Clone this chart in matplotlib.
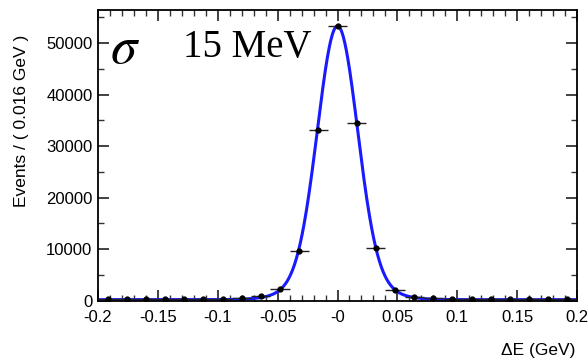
import numpy as np
import matplotlib
matplotlib.use("Agg")
import matplotlib.pyplot as plt
from matplotlib.ticker import MultipleLocator

# Data: bin centres (GeV) and event counts
bin_centers = [-0.192, -0.176, -0.160, -0.144, -0.128, -0.112, -0.096, -0.080,
               -0.064, -0.048, -0.032, -0.016, 0.000, 0.016, 0.032, 0.048,
               0.064, 0.080, 0.096, 0.112, 0.128, 0.144, 0.160, 0.176, 0.192]
counts = [250, 280, 300, 320, 330, 360, 420, 600,
          950, 2270, 9640, 33100, 53300, 34500, 10280, 2080,
          780, 450, 380, 340, 320, 300, 290, 270, 260]
bin_half_width = 0.008

# Fit parameters (double Gaussian + flat background)
fit_mean = 0.0
fit_peak = 53300
fit_sigma_core = 0.0165
fit_sigma_wide = 0.028
fit_frac_core = 0.9
fit_bkg = 200

xticks = [-0.2, -0.15, -0.1, -0.05, 0.0, 0.05, 0.1, 0.15, 0.2]
xticklabels = ["-0.2", "-0.15", "-0.1", "-0.05", "-0", "0.05", "0.1", "0.15", "0.2"]
yticks = [0, 10000, 20000, 30000, 40000, 50000]
yticklabels = ["0", "10000", "20000", "30000", "40000", "50000"]

plt.rcParams["mathtext.fontset"] = "stix"

fig = plt.figure(figsize=(5.88, 3.61), dpi=100)
ax = fig.add_axes([98/588, 1 - 300.7/361, (577-98)/588, (300.7-10)/361])

x = np.linspace(-0.2, 0.2, 1000)
amp = fit_peak - fit_bkg
y = amp * (fit_frac_core * np.exp(-0.5 * ((x - fit_mean) / fit_sigma_core) ** 2)
           + (1 - fit_frac_core) * np.exp(-0.5 * ((x - fit_mean) / fit_sigma_wide) ** 2)) + fit_bkg
ax.plot(x, y, color="#1a1aff", lw=2.2, zorder=2)

yerr = np.sqrt(np.array(counts, dtype=float))
ax.errorbar(bin_centers, counts, xerr=bin_half_width, yerr=yerr, fmt="o",
            color="black", ms=3.5, elinewidth=1.0, ecolor="#222222", capsize=0, zorder=3)

ax.set_xlim(-0.2, 0.2)
ax.set_ylim(0, 56400)
ax.set_xticks(xticks)
ax.set_xticklabels(xticklabels)
ax.set_yticks(yticks)
ax.set_yticklabels(yticklabels)
ax.xaxis.set_minor_locator(MultipleLocator(0.01))
ax.yaxis.set_minor_locator(MultipleLocator(5000))

for s in ax.spines.values():
    s.set_linewidth(1.3)
    s.set_color("black")

ax.tick_params(which="both", direction="in", top=True, right=True, colors="#333333")
ax.tick_params(which="major", length=8, width=1.3, labelsize=12, labelcolor="black")
ax.tick_params(axis="x", which="major", pad=7)
ax.tick_params(axis="y", which="major", pad=4)
ax.tick_params(which="minor", length=4, width=1.0)
for lab in ax.get_xticklabels() + ax.get_yticklabels():
    lab.set_family(["Liberation Sans", "DejaVu Sans"])

ax.set_ylabel("Events / ( 0.016 GeV )", fontsize=12.5, family=["Liberation Sans", "DejaVu Sans"])
ax.yaxis.set_label_coords(-0.145, 0.62)
fig.text(575/588, 1 - 350/361, "ΔE (GeV)", ha="right", va="center", fontsize=12.5,
         family=["Liberation Sans", "DejaVu Sans"])

fig.text(110/588, 1 - 48/361, r"$\sigma$", ha="left", va="center", fontsize=38)
fig.text(183/588, 1 - 48/361, "15 MeV", ha="left", va="center", fontsize=28,
         family=["Liberation Serif", "DejaVu Serif"])

fig.savefig("out.png", dpi=100)
